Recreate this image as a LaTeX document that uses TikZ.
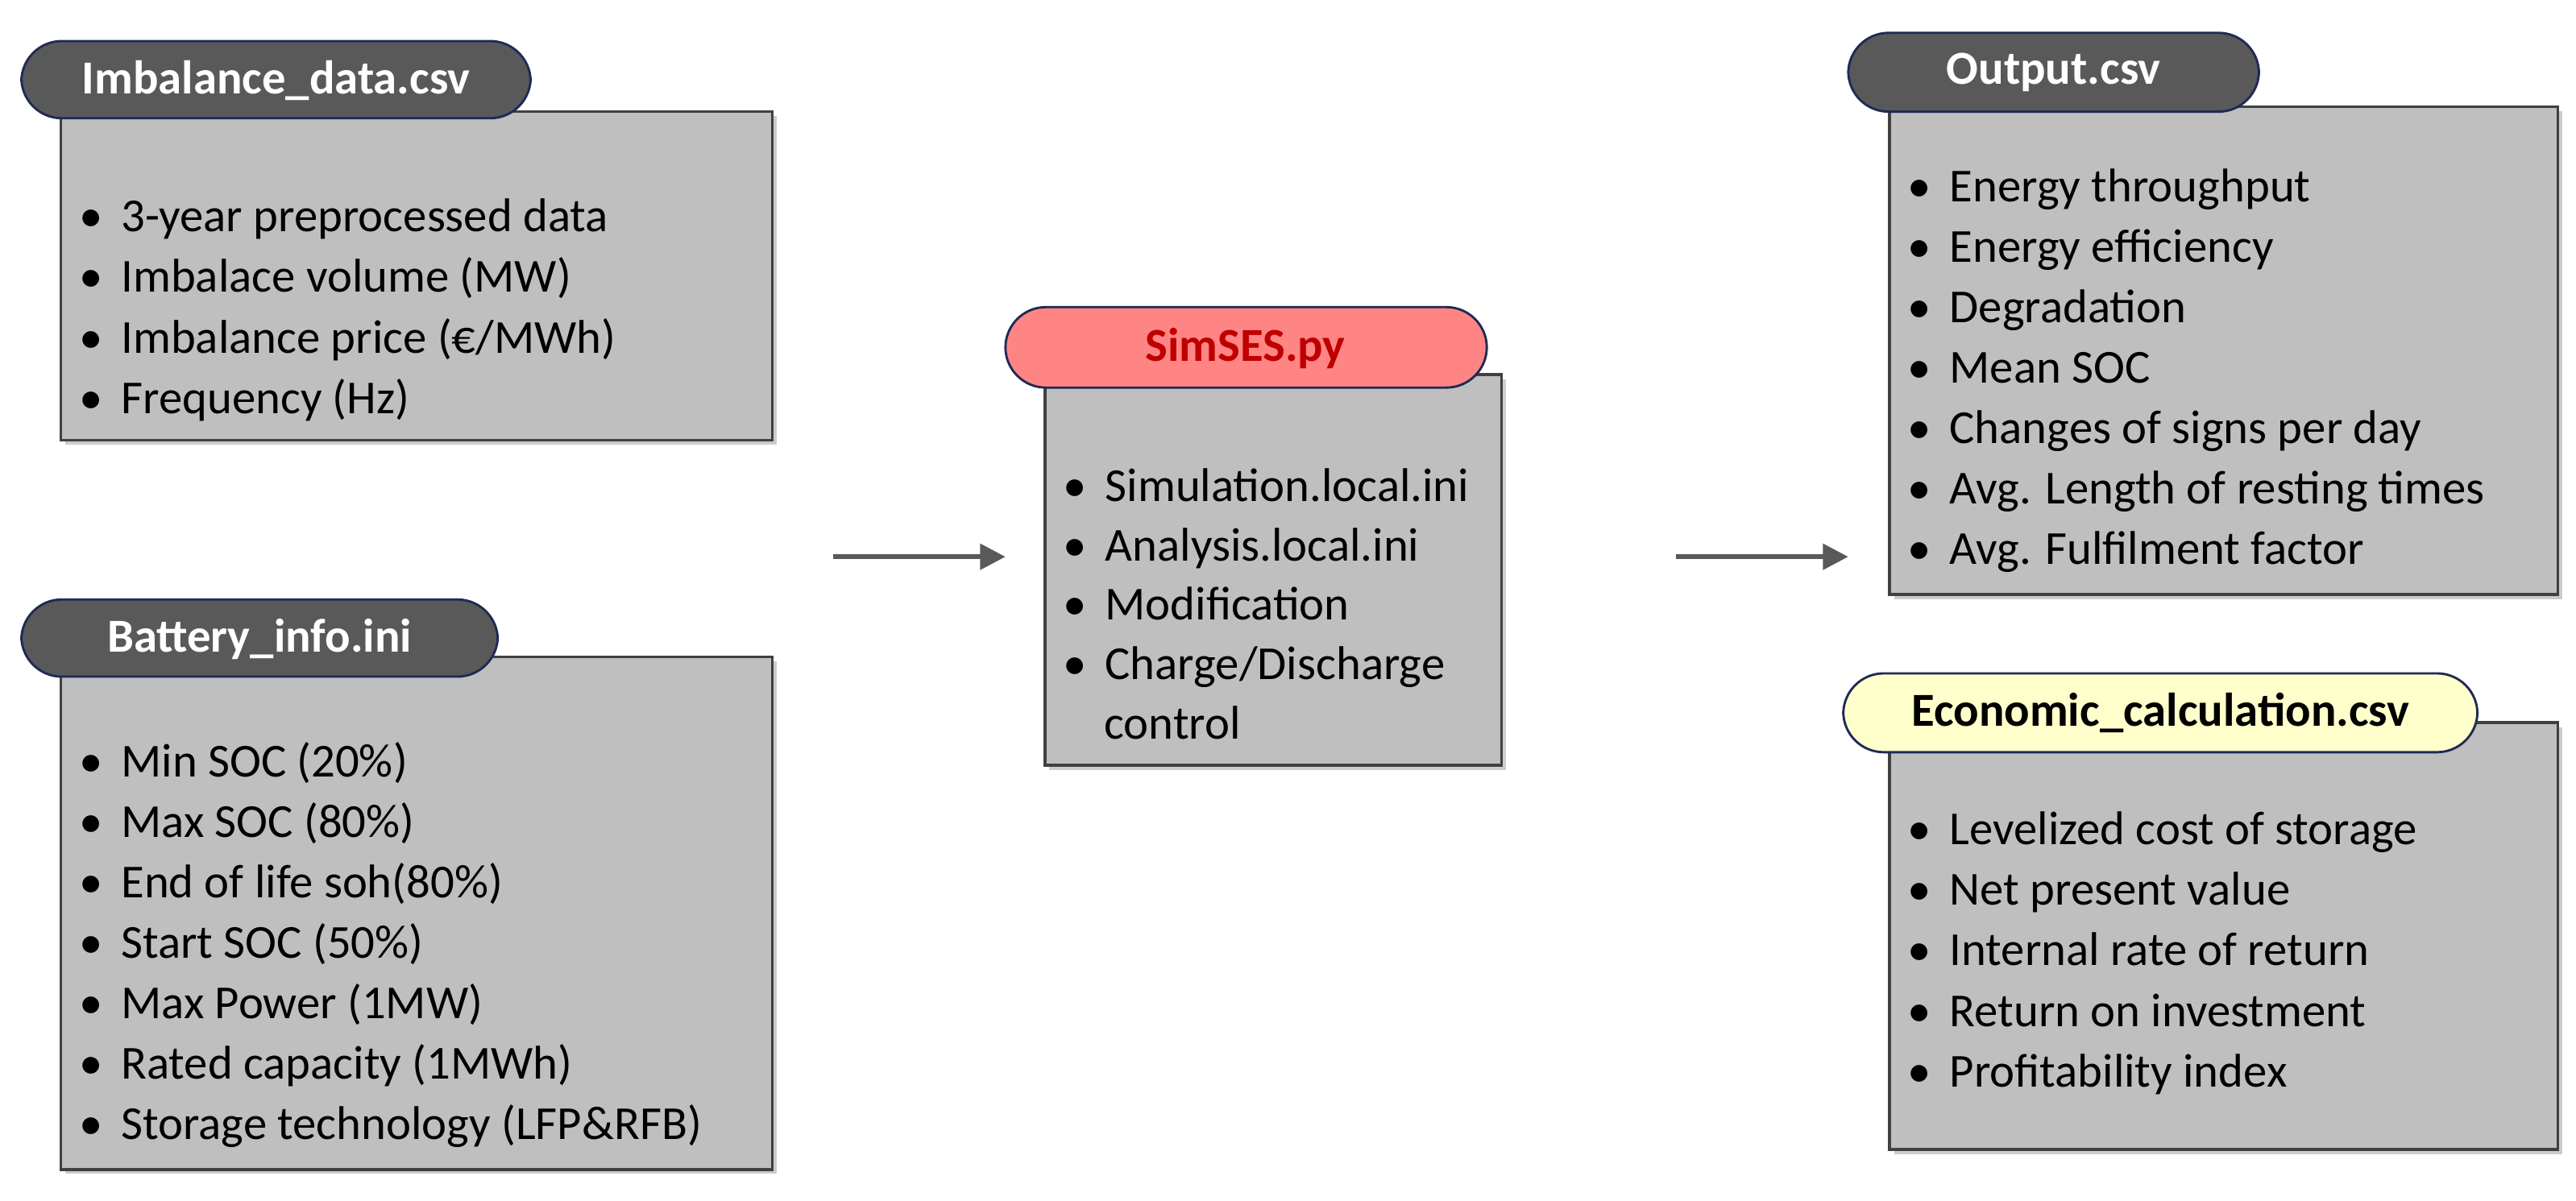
\documentclass[tikz,border=0pt]{standalone}
\usepackage{fontspec}
\setmainfont{Carlito}
\usetikzlibrary{shadows,arrows.meta}
\definecolor{boxg}{HTML}{BFBFBF}
\definecolor{pilld}{HTML}{595959}
\definecolor{pillp}{HTML}{FF8585}
\definecolor{pilly}{HTML}{FFFFCC}
\definecolor{edge}{HTML}{404040}
\definecolor{navy}{HTML}{1F2A55}
\begin{document}
\begin{tikzpicture}[x=0.05cm,y=-0.05cm,
 box/.style={draw=edge,line width=2.5pt,fill=boxg,drop shadow={shadow xshift=4pt,shadow yshift=-4pt,fill=black!40}},
 pill/.style={draw=navy,line width=2pt,rounded corners=35pt},
 ptext/.style={font=\fontsize{41}{46}\selectfont\bfseries,anchor=center},
 item/.style={font=\fontsize{41}{46}\selectfont,anchor=base west,inner sep=0pt},
 arr/.style={draw=pilld,line width=4pt,-{Triangle[length=22pt,width=22pt]}}]
\useasboundingbox (0,0) rectangle (1568,731);
% boxes
\path[box] (37,68) rectangle (470,268);
\path[box] (37,400) rectangle (470,712);
\path[box] (636,228) rectangle (914,466);
\path[box] (1150,65) rectangle (1557,362);
\path[box] (1150,440) rectangle (1557,700);
% pills
\path[pill,fill=pilld] (13,25) rectangle (323,72);
\node[ptext,text=white] (p1) at (168,49) {Imbalance\_data.csv};
\path[pill,fill=pilld] (13,365) rectangle (303,412);
\node[ptext,text=white] (p2) at (158,389) {Battery\_info.ini};
\path[pill,fill=pillp] (612,187) rectangle (905,236);
\node[ptext,text=red!75!black] (p3) at (758,212) {SimSES.py};
\path[pill,fill=pilld] (1125,20) rectangle (1375,68);
\node[ptext,text=white] (p4) at (1250,44) {Output.csv};
\path[pill,fill=pilly] (1122,410) rectangle (1508,458);
\node[ptext,text=black] (p5) at (1315,434) {Economic\_calculation.csv};
% items
\foreach \t [count=\i] in {3-year preprocessed data,Imbalace volume (MW),Imbalance price (€/MWh),Frequency (Hz)}
 {\node[item] at (48,104+37*\i) {•\hspace{16pt}\t};}
\foreach \t [count=\i] in {Min SOC (20\%),Max SOC (80\%),End of life soh(80\%),Start SOC (50\%),Max Power (1MW),Rated capacity (1MWh),Storage technology (LFP\&RFB)}
 {\node[item] at (48,436+36.8*\i) {•\hspace{16pt}\t};}
\foreach \t [count=\i] in {Simulation.local.ini,Analysis.local.ini,Modification,Charge/Discharge}
 {\node[item] at (647,269+36.2*\i) {•\hspace{16pt}\t};}
\node[item] at (672,450) {control};
\foreach \t [count=\i] in {Energy throughput,Energy efficiency,Degradation,Mean SOC,Changes of signs per day,Avg. Length of resting times,Avg. Fulfilment factor}
 {\node[item] at (1161,86+36.8*\i) {•\hspace{16pt}\t};}
\foreach \t [count=\i] in {Levelized cost of storage,Net present value,Internal rate of return,Return on investment,Profitability index}
 {\node[item] at (1161,477+37*\i) {•\hspace{16pt}\t};}
% arrows
\coordinate (a1) at (507,339); \coordinate (a2) at (612,339);
\coordinate (b1) at (1020,339); \coordinate (b2) at (1125,339);
\draw[arr] (a1) -- (a2);
\draw[arr] (b1) -- (b2);
\end{tikzpicture}
\end{document}
